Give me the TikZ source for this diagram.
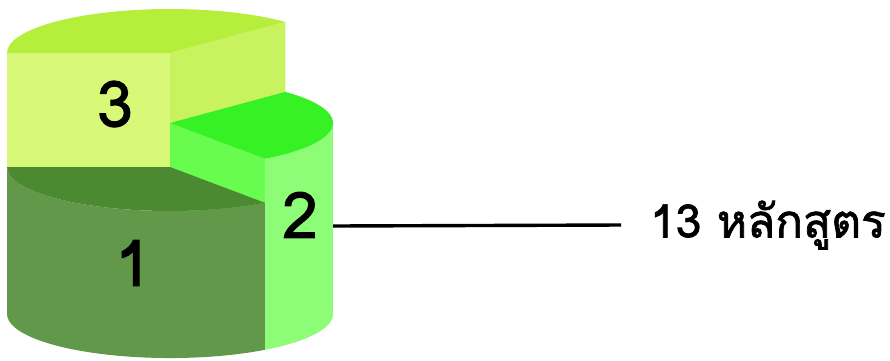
\documentclass[tikz,border=0pt]{standalone}
\usepackage{fontspec}
\newfontfamily\thaifont[Script=Thai,FakeBold=1.6]{Loma}
\definecolor{pthreetop}{HTML}{B5EE3B}
\definecolor{pthreefront}{HTML}{D8F878}
\definecolor{pthreeright}{HTML}{C9F35E}
\definecolor{ptwotop}{HTML}{36F224}
\definecolor{ptwocut}{HTML}{68FD4E}
\definecolor{ptwoside}{HTML}{8DFD78}
\definecolor{ponetop}{HTML}{4B8A31}
\definecolor{poneside}{HTML}{629849}
\tikzset{
  ell/.style={x radius=163, y radius=44},
  biglabel/.style={font=\thaifont\fontsize{64}{64}\selectfont, inner sep=0pt, text=black},
  sidelabel/.style={font=\thaifont\fontsize{46}{46}\selectfont, inner sep=0pt, anchor=west, text=black},
  leader/.style={line width=3.4pt, black}
}
\begin{document}
\begin{tikzpicture}[x=1pt,y=-1pt]
\useasboundingbox (0,0) rectangle (890,360);
% piece 3 (back)
\fill[pthreefront] (7,53) rectangle (170,167);
\fill[pthreeright] (170,53) -- (285.3,21.9) -- (285.3,135.9) -- (170,167) -- cycle;
\fill[pthreetop] (170,53) -- (7,53) arc[start angle=180, end angle=315, ell] -- cycle;
% piece 2 (right)
\fill[ptwocut] (170,123) -- (264.9,158.8) -- (264.9,349.8) -- (170,314) -- cycle;
\fill[ptwoside] (333,123) arc[start angle=0, end angle=54.4, ell] -- (264.9,349.8) arc[start angle=54.4, end angle=0, ell] -- cycle;
\fill[ptwotop] (170,123) -- (285.3,91.9) arc[start angle=-45, end angle=54.4, ell] -- cycle;
% piece 1 (front)
\fill[poneside] (7,167) arc[start angle=180, end angle=54.4, ell] -- (264.9,349.8) arc[start angle=54.4, end angle=180, ell] -- cycle;
\fill[ponetop] (170,167) -- (7,167) arc[start angle=180, end angle=54.4, ell] -- cycle;
% labels
\node[biglabel] (three) at (115,104) {3};
\node[biglabel] (one) at (133,263) {1};
\node[biglabel] (two) at (300,215) {2};
\coordinate (edge) at (333,226);
\node[sidelabel] (courses) at (650,225) {13 หลักสูตร};
\draw[leader] (edge) -- ([xshift=-29pt]courses.west);
\end{tikzpicture}
\end{document}
